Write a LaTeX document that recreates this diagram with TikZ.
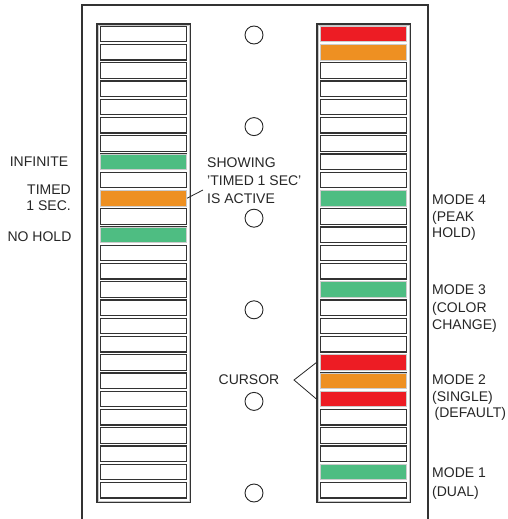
\documentclass[tikz,border=0pt]{standalone}
\usepackage{fontspec}
\setmainfont{Liberation Sans}
\usetikzlibrary{positioning,calc}
\definecolor{ledred}{HTML}{ED1C24}
\definecolor{ledorange}{HTML}{EE9022}
\definecolor{ledgreen}{HTML}{4EBD82}
\begin{document}
\begin{tikzpicture}[x=1pt, y=-1pt,
  panel/.style={draw=black!80, line width=1.2pt},
  colframe/.style={draw=black!80, line width=1.2pt, minimum width=93pt, minimum height=478pt, inner sep=0pt},
  cell/.style={draw=black!80, line width=1.1pt, fill=white, minimum width=86pt, minimum height=15.5pt, inner sep=0pt},
  lit/.style={cell, fill=#1, draw=gray!40, line width=0.8pt},
  hole/.style={circle, draw=black!85, line width=0.9pt, minimum size=18pt, inner sep=0pt},
  label/.style={font=\fontsize{14}{16.5}\selectfont, inner sep=0pt, text=black!85},
  leader/.style={draw=black!85, line width=0.8pt}]
\useasboundingbox (0,0) rectangle (508,519);

\draw[panel] (82,519) |- (428,5) -- (428,519);

\node[colframe] (Lframe) at (143.5,263) {};
\node[colframe] (Rframe) at (363.5,263) {};
\draw[gray!45, line width=0.8pt] ($(Lframe.north west)+(1.6,1.6)$) rectangle ($(Lframe.south east)+(-1.6,-1.6)$);
\draw[gray!45, line width=0.8pt] ($(Rframe.north west)+(1.6,1.6)$) rectangle ($(Rframe.south east)+(-1.6,-1.6)$);

\foreach \i in {0,...,25} {
  \node[cell] (L\i) at (143.5,34+18.25*\i) {};
  \node[cell] (R\i) at (363.5,34+18.25*\i) {};
}
\foreach \i/\c in {7/ledgreen, 9/ledorange, 11/ledgreen}
  \node[lit=\c] (L\i lit) at (L\i) {};
\foreach \i/\c in {0/ledred, 1/ledorange, 9/ledgreen, 14/ledgreen, 18/ledred, 19/ledorange, 20/ledred, 24/ledgreen}
  \node[lit=\c] (R\i lit) at (R\i) {};

\foreach \k in {0,...,5}
  \node[hole] (hole\k) at (254,35+91.6*\k) {};

\node[label] (infinite) at (39,162) {INFINITE};
\node[label, align=right, anchor=east] (timed) at (71,197.5) {TIMED\\1 SEC.};
\node[label] (nohold) at (39.5,237) {NO HOLD};

\node[label, align=left, anchor=west, font=\fontsize{14}{18}\selectfont] (showing) at (207,181) {SHOWING\\'TIMED 1 SEC'\\IS ACTIVE};
\coordinate (showtip) at (203,190);
\draw[leader] (L9.east) -- (showtip);

\node[label] (cursor) at (249,380) {CURSOR};
\coordinate (cursortip) at (294,380);
\draw[leader] (R18.west -| Rframe.west) -- (cursortip) -- (R20.west -| Rframe.west);

\node[label, align=left, anchor=west] (mode4) at (432,218) {MODE 4\\(PEAK\\HOLD)};
\node[label, align=left, anchor=west, font=\fontsize{14}{17.5}\selectfont] (mode3) at (432,309) {MODE 3\\(COLOR\\CHANGE)};
\node[label, align=left, anchor=west] (mode2) at (432,398) {MODE 2\\(SINGLE)\\\hspace*{2.5pt}(DEFAULT)};
\node[label, align=left, anchor=west, font=\fontsize{14}{19}\selectfont] (mode1) at (432,483.5) {MODE 1\\(DUAL)};
\end{tikzpicture}
\end{document}
